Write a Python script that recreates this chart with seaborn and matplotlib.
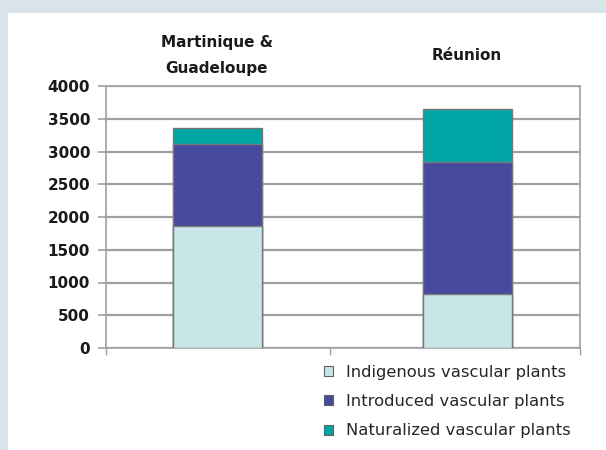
import matplotlib
matplotlib.use("Agg")
import matplotlib.pyplot as plt
import seaborn as sns
from matplotlib.patches import Patch, Rectangle

# data
categories = ["Martinique &\nGuadeloupe", "Réunion"]
indigenous = [1860, 820]
introduced = [1260, 2020]
naturalized = [240, 810]
series_names = ["Indigenous vascular plants", "Introduced vascular plants",
                "Naturalized vascular plants"]
series_colors = ["#c8e6e8", "#474a9c", "#00a6a6"]

sns.set_style("white")
plt.rcParams["font.family"] = ["DejaVu Sans"]

fig = plt.figure(figsize=(6.06, 4.5), dpi=100)
fig.patch.set_facecolor("#d9e3ea")
# white panel inside the blue-grey frame
fig.patches.append(Rectangle((8 / 606, 0), 1, 1 - 13 / 450, transform=fig.transFigure,
                             facecolor="white", edgecolor="none", zorder=-5))
ax = fig.add_axes([106 / 606, 1 - 348 / 450, (580 - 106) / 606, (348 - 86) / 450])
ax.set_facecolor("white")

# stacked bars: draw cumulative totals from the top down
cum1 = indigenous
cum2 = [a + b for a, b in zip(indigenous, introduced)]
cum3 = [a + b + c for a, b, c in zip(indigenous, introduced, naturalized)]
for vals, col in zip([cum3, cum2, cum1], series_colors[::-1]):
    sns.barplot(x=categories, y=vals, color=col, width=0.356, edgecolor="#787878",
                linewidth=1.0, saturation=1, ax=ax, zorder=3)

ax.set_ylim(0, 4000)
ax.set_xlim(-0.444, 1.452)
ax.set_yticks(range(0, 4001, 500))
ax.yaxis.grid(True, color="#a0a0a0", linewidth=1.6, zorder=0)
ax.set_axisbelow(True)
for s in ax.spines.values():
    s.set_color("#a0a0a0")
    s.set_linewidth(1.2)
ax.tick_params(axis="y", direction="out", length=6, color="#a0a0a0", width=1.2,
               labelsize=11, pad=5.5, left=True)
for lab in ax.get_yticklabels():
    lab.set_fontweight("bold")
    lab.set_color("#1a1a1a")

ax.xaxis.tick_top()
ax.set_xticks([0, 1])
ax.set_xticklabels(categories, fontsize=11, fontweight="bold", color="#1a1a1a",
                   va="center", linespacing=1.85)
ax.tick_params(axis="x", which="major", length=0, pad=22)
ax.set_xticks([-0.444, 0.45, 1.452], minor=True)
ax.tick_params(axis="x", which="minor", bottom=True, top=False, direction="out",
               length=5, color="#a0a0a0", width=1.0)
ax.set_xlabel("")
ax.set_ylabel("")

handles = [Patch(facecolor=c, edgecolor="#606060", linewidth=0.8) for c in series_colors]
fig.legend(handles, series_names, loc="upper left", bbox_to_anchor=(317 / 606, 1 - 358 / 450),
           frameon=False, fontsize=11.8, handlelength=0.55, handleheight=0.55,
           handletextpad=0.85, labelspacing=0.88, borderaxespad=0)

fig.savefig("out.png", dpi=100, facecolor=fig.get_facecolor())
